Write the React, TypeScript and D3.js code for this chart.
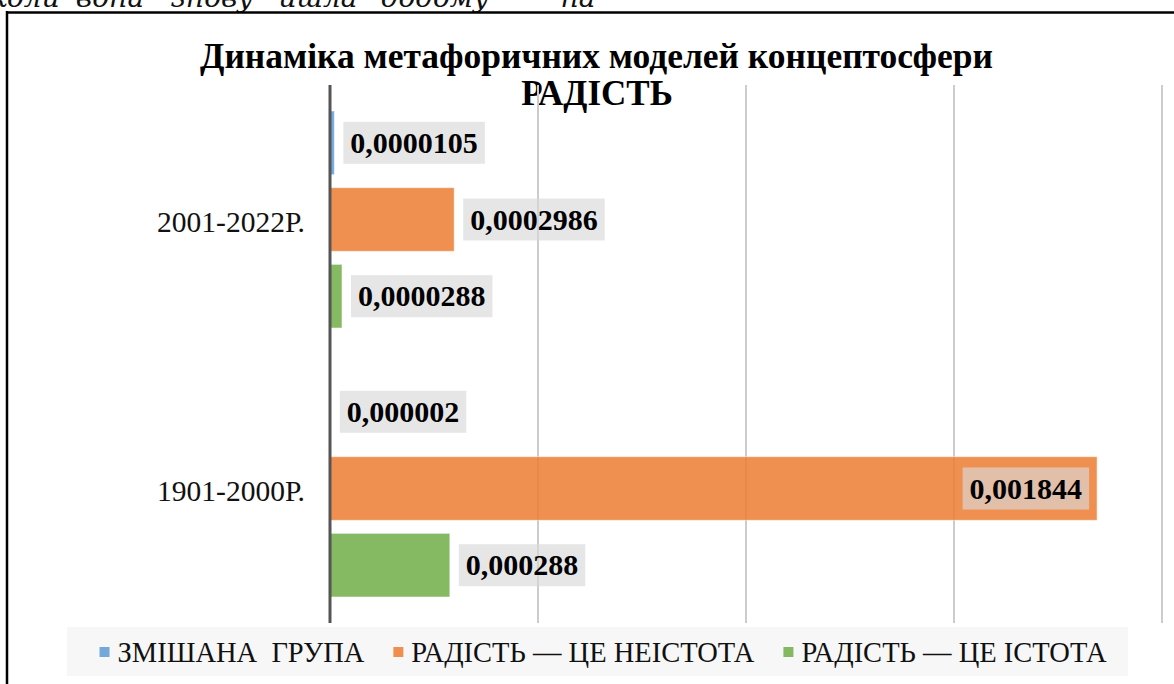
import * as d3 from 'd3';
import React, { useEffect, useRef } from 'react';

const categories = ['2001-2022Р.', '1901-2000Р.'];
const seriesNames = ['ЗМІШАНА  ГРУПА', 'РАДІСТЬ — ЦЕ НЕІСТОТА', 'РАДІСТЬ — ЦЕ ІСТОТА'];
const mixedGroup = [0.0000105, 0.000002];
const notBeing = [0.0002986, 0.001844];
const being = [0.0000288, 0.000288];
const seriesValues = [mixedGroup, notBeing, being];
const colors = ['#5B9BD5', '#ED7D31', '#70AD47'];
const titleLines = ['Динаміка метафоричних моделей концептосфери', 'РАДІСТЬ'];
const topWords = ['коли', 'вона', 'знову', 'йшла', 'додому', 'на'];

const W = 1174;
const H = 684;
const serif = '"Liberation Serif", "Times New Roman", serif';

export default function App() {
    const ref = useRef<SVGSVGElement>(null);

    useEffect(() => {
        const svg = d3.select(ref.current);
        svg.selectAll('*').remove();

        // cut-off line of body text above the chart (justified line, only its lower part visible)
        const wordCenters = [25, 110, 212, 318, 435, 578];
        svg.append('g')
            .selectAll('text')
            .data(topWords)
            .join('text')
            .attr('x', (d, i) => wordCenters[i])
            .attr('y', 7)
            .attr('text-anchor', 'middle')
            .attr('font-family', '"DejaVu Serif", serif')
            .attr('font-style', 'italic')
            .attr('font-size', 28)
            .attr('fill', '#111')
            .text((d) => d);

        // frame
        svg.append('line').attr('x1', 6).attr('x2', W).attr('y1', 12.5).attr('y2', 12.5)
            .attr('stroke', '#000').attr('stroke-width', 2.5);
        svg.append('line').attr('x1', 7).attr('x2', 7).attr('y1', 11).attr('y2', H)
            .attr('stroke', '#000').attr('stroke-width', 2.5);

        // title
        svg.append('text').attr('x', 596.5).attr('y', 68).attr('text-anchor', 'middle')
            .attr('font-family', serif).attr('font-weight', 'bold').attr('font-size', 35)
            .attr('textLength', 793).attr('lengthAdjust', 'spacingAndGlyphs')
            .text(titleLines[0]);
        svg.append('text').attr('x', 597).attr('y', 105).attr('text-anchor', 'middle')
            .attr('font-family', serif).attr('font-weight', 'bold').attr('font-size', 35)
            .text(titleLines[1]);

        const x = d3.scaleLinear().domain([0, 0.002]).range([330, 1162]);
        const y0 = d3.scaleBand<string>().domain(categories).range([85, 623]);
        const y1 = d3.scaleBand<number>().domain([0, 1, 2]).range([26, y0.bandwidth() - 26]).paddingInner(0.17);

        // gridlines
        svg.append('g')
            .selectAll('line')
            .data(x.ticks(4).slice(1))
            .join('line')
            .attr('x1', (d) => x(d)).attr('x2', (d) => x(d))
            .attr('y1', 85).attr('y2', 623)
            .attr('stroke', '#cccccc').attr('stroke-width', 2);

        // bars
        const groups = svg.append('g')
            .selectAll('g')
            .data(categories)
            .join('g')
            .attr('transform', (d) => `translate(0,${y0(d)})`);

        groups.selectAll('rect')
            .data((c, ci) => seriesValues.map((vals, si) => ({ si, v: vals[ci] })))
            .join('rect')
            .attr('x', x(0))
            .attr('y', (d) => y1(d.si)!)
            .attr('width', (d) => x(d.v) - x(0))
            .attr('height', y1.bandwidth())
            .attr('fill', (d) => colors[d.si])
            .attr('fill-opacity', 0.85)
            .attr('stroke', '#fff')
            .attr('stroke-opacity', 0.5)
            .attr('stroke-width', 1);

        // axis line
        svg.append('line').attr('x1', x(0)).attr('x2', x(0)).attr('y1', 85).attr('y2', 623)
            .attr('stroke', '#555').attr('stroke-width', 3);

        // category labels
        svg.append('g')
            .selectAll('text')
            .data(categories)
            .join('text')
            .attr('x', 305)
            .attr('y', (d) => y0(d)! + y0.bandwidth() / 2 + 12)
            .attr('text-anchor', 'end')
            .attr('font-family', serif)
            .attr('font-size', 29.5)
            .attr('fill', '#111')
            .text((d) => d);

        // data labels
        groups.each(function (c, ci) {
            const g = d3.select(this);
            seriesValues.forEach((vals, si) => {
                const v = vals[ci];
                const cy = y1(si)! + y1.bandwidth() / 2;
                const lab = g.append('g');
                const rect = lab.append('rect');
                const t = lab.append('text')
                    .attr('font-family', serif)
                    .attr('font-weight', 'bold')
                    .attr('font-size', 30)
                    .attr('fill', '#000')
                    .attr('y', cy + 10)
                    .text(String(v).replace('.', ','));
                const tw = (t.node() as SVGTextElement).getComputedTextLength();
                const bw = tw + 14;
                let bx = x(v) + 9;
                if (bx + bw > x.range()[1]) bx = x(v) - 8 - bw;
                rect.attr('x', bx).attr('y', cy - 21).attr('width', bw).attr('height', 42)
                    .attr('fill', '#d9d9d9').attr('fill-opacity', 0.65);
                t.attr('x', bx + 7);
            });
        });

        // legend
        svg.append('rect').attr('x', 67).attr('y', 627).attr('width', 1061).attr('height', 49)
            .attr('fill', '#f7f7f7');
        const leg = svg.append('g');
        let lx = 0;
        seriesNames.forEach((name, i) => {
            const item = leg.append('g').attr('transform', `translate(${lx},0)`);
            item.append('rect').attr('x', 0).attr('y', 647).attr('width', 10).attr('height', 10)
                .attr('fill', colors[i]).attr('fill-opacity', 0.85);
            const t = item.append('text').attr('x', 18).attr('y', 662)
                .attr('font-family', serif).attr('font-size', 28.5).attr('fill', '#111')
                .style('white-space', 'pre')
                .text(name);
            lx += 18 + (t.node() as SVGTextElement).getComputedTextLength() + 29;
        });
        const total = lx - 29;
        leg.attr('transform', `translate(${603 - total / 2},0)`);
    }, []);

    return (
        <svg
            ref={ref}
            width={W}
            height={H}
            style={{ position: 'absolute', left: 0, top: 0, background: '#fff' }}
        />
    );
}
